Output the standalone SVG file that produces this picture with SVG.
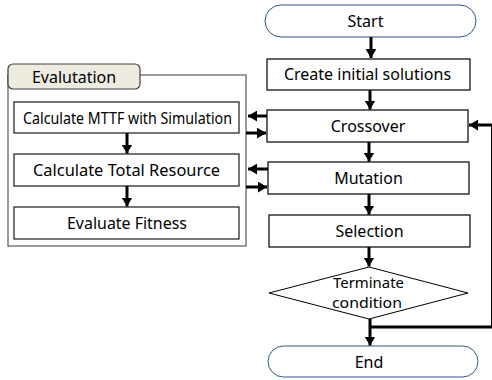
<svg xmlns="http://www.w3.org/2000/svg" width="492" height="380" viewBox="0 0 492 380">
<defs>
<style>
text{font-family:"Noto Sans","Open Sans","DejaVu Sans",sans-serif;font-size:16px;fill:#000;text-anchor:middle}
.box{fill:#fff;stroke:#000;stroke-width:1.2}
.ebox{fill:#fff;stroke:#1a1a1a;stroke-width:1.2}
.term{fill:#fff;stroke:#2F5580;stroke-width:1}
.arr{stroke:#000;stroke-width:3;fill:none;marker-end:url(#ah)}
.ln{stroke:#000;stroke-width:3;fill:none}
.dt{font-size:14.5px}
</style>
<marker id="ah" markerUnits="userSpaceOnUse" viewBox="0 0 10 12" markerWidth="9" markerHeight="11" refX="10" refY="6" orient="auto">
<path d="M0,0 L10,6 L0,12 z" fill="#000"/>
</marker>
</defs>

<g id="evaluation">
<rect x="8" y="75" width="238" height="171" fill="#fff" stroke="#595959" stroke-width="1.2"/>
<rect x="8" y="64" width="132" height="25" rx="5" fill="#EEECE1" stroke="#404040" stroke-width="1.2"/>
<text x="74" y="82.5">Evalutation</text>
</g>
<g id="mttf">
<rect class="ebox" x="14" y="102" width="225" height="31"/>
<text x="127.5" y="123.5" textLength="209" lengthAdjust="spacingAndGlyphs">Calculate MTTF with Simulation</text>
</g>
<g id="resource">
<rect class="ebox" x="14" y="154" width="225" height="32"/>
<text x="126.5" y="176" textLength="187" lengthAdjust="spacingAndGlyphs">Calculate Total Resource</text>
</g>
<g id="fitness">
<rect class="ebox" x="14" y="207" width="225" height="32"/>
<text x="127" y="228.5" textLength="120" lengthAdjust="spacingAndGlyphs">Evaluate Fitness</text>
</g>

<g id="start">
<rect class="term" x="265" y="5" width="211" height="32" rx="16"/>
<text x="365.5" y="26.5">Start</text>
</g>
<g id="create">
<rect class="box" x="267" y="59" width="203" height="31"/>
<text x="367.5" y="80">Create initial solutions</text>
</g>
<g id="crossover">
<rect class="box" x="267" y="110" width="201" height="32"/>
<text x="368" y="131.5">Crossover</text>
</g>
<g id="mutation">
<rect class="box" x="268" y="162" width="201" height="32"/>
<text x="368.5" y="184">Mutation</text>
</g>
<g id="selection">
<rect class="box" x="269" y="215" width="201" height="32"/>
<text x="369.5" y="236.5">Selection</text>
</g>
<g id="terminate">
<polygon points="369,267 468,293 369,319 269,293" fill="#fff" stroke="#000" stroke-width="1"/>
<text class="dt" x="368.5" y="288" textLength="71" lengthAdjust="spacingAndGlyphs">Terminate</text>
<text class="dt" x="367" y="308" textLength="70" lengthAdjust="spacingAndGlyphs">condition</text>
</g>
<g id="end">
<rect class="term" x="268" y="346" width="210" height="31" rx="15.5"/>
<text x="369" y="367.5">End</text>
</g>

<g id="connectors">
<line class="arr" x1="371" y1="37" x2="371" y2="58"/>
<line class="arr" x1="370" y1="90" x2="370" y2="109.5"/>
<line class="arr" x1="369" y1="142" x2="369" y2="161.5"/>
<line class="arr" x1="369" y1="194" x2="369" y2="214.5"/>
<line class="arr" x1="369" y1="247" x2="369" y2="266.5"/>
<line class="arr" x1="370" y1="319" x2="370" y2="345.5"/>
<line class="arr" x1="127" y1="133" x2="127" y2="153.5"/>
<line class="arr" x1="127" y1="186" x2="127" y2="206.5"/>
<line class="arr" x1="267" y1="116" x2="248" y2="116"/>
<line class="arr" x1="246" y1="133" x2="266" y2="133"/>
<line class="arr" x1="268" y1="169" x2="248" y2="169"/>
<line class="arr" x1="246" y1="187" x2="267" y2="187"/>
<polyline class="ln" points="370,327 492,327"/>
<line stroke="#000" stroke-width="1" x1="491.5" y1="125" x2="491.5" y2="327"/>
<line class="arr" x1="492" y1="125" x2="469" y2="125"/>
</g>
</svg>
